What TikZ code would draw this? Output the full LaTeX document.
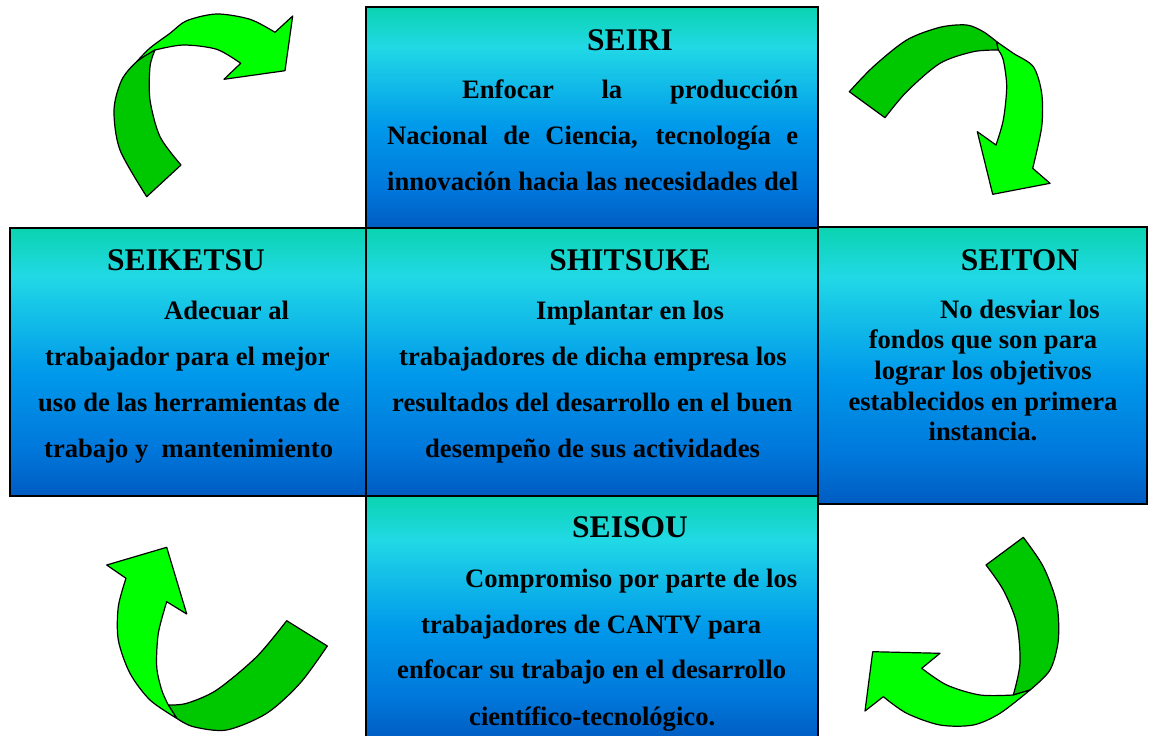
\documentclass[tikz,border=0pt]{standalone}
\usepackage{fontspec}
\setmainfont{Liberation Serif}
\definecolor{lgreen}{RGB}{0,255,0}
\definecolor{dgreen}{RGB}{0,200,0}
\definecolor{sbot}{rgb}{0,0.36,0.76}
\definecolor{sblu}{rgb}{0,0.47,0.86}
\definecolor{smid}{rgb}{0,0.6,0.92}
\definecolor{scya}{rgb}{0.13,0.85,0.9}
\definecolor{stop}{rgb}{0.04,0.83,0.69}
\pgfdeclareverticalshading{boxshade}{100bp}{%
color(0bp)=(sbot);
color(25bp)=(sbot);
color(34bp)=(sblu);
color(48bp)=(smid);
color(66bp)=(scya);
color(75bp)=(stop);
color(100bp)=(stop)}
\tikzset{
  box/.style={draw=black, line width=1.5pt, shading=boxshade},
  ttl/.style={font=\fontsize{31.5}{36}\selectfont\bfseries, anchor=base, inner sep=0pt},
  txt/.style={font=\fontsize{26.6}{30}\selectfont\bfseries, anchor=base west, inner sep=0pt},
  txc/.style={font=\fontsize{26.6}{30}\selectfont\bfseries, anchor=base, inner sep=0pt},
  arl/.style={draw=black, line width=1.2pt, fill=lgreen, line join=round},
  ard/.style={draw=black, line width=1.2pt, fill=dgreen, line join=round}
}
\begin{document}
\begin{tikzpicture}[x=1pt,y=-1pt]
\useasboundingbox (0,0) rectangle (1152,736);
% boxes
\path[box] (366,7) rectangle (818,228);
\path[box] (818,227) rectangle (1147,504);
\path[box] (366,496) rectangle (818,740);
\path[box] (10,228) rectangle (366,496);
\path[box] (366,228) rectangle (818,496);
% SEIRI
\node[ttl] (t1) at (630,50) {SEIRI};
\node[txt] (a1) at (462,98) {\makebox[336pt][s]{Enfocar la producción}};
\node[txt] (a2) at (387,144) {\makebox[411pt][s]{Nacional de Ciencia, tecnología e}};
\node[txt] (a3) at (387,190) {\makebox[411pt][s]{innovación hacia las necesidades del}};
% SEIKETSU
\node[ttl] (t2) at (186,270) {SEIKETSU};
\node[txt] (b1) at (164,319) {Adecuar al};
\node[txt] (b2) at (45,365) {trabajador para el mejor};
\node[txt] (b3) at (38,411) {uso de las herramientas de};
\node[txt] (b4) at (44,457) {trabajo y\ \ mantenimiento};
% SHITSUKE
\node[ttl] (t3) at (630,270) {SHITSUKE};
\node[txt] (c1) at (536,319) {Implantar en los};
\node[txt] (c2) at (399,365) {trabajadores de dicha empresa los};
\node[txt] (c3) at (392,411) {resultados del desarrollo en el buen};
\node[txt] (c4) at (425,457) {desempeño de sus actividades};
% SEITON
\node[ttl] (t4) at (1020,270) {SEITON};
\node[txt] (d1) at (940,318) {No desviar los};
\node[txc] (d2) at (983,348) {fondos que son para};
\node[txc] (d3) at (983,379) {lograr los objetivos};
\node[txc] (d4) at (983,410) {establecidos en primera};
\node[txc] (d5) at (983,440) {instancia.};
% SEISOU
\node[ttl] (t5) at (630,537) {SEISOU};
\node[txt] (e1) at (465,587) {Compromiso por parte de los};
\node[txt] (e2) at (421,633) {trabajadores de CANTV para};
\node[txt] (e3) at (397,678) {enfocar su trabajo en el desarrollo};
\node[txt] (e4) at (469,725) {científico-tecnológico.};
% arrow top-left
\draw[arl] plot[smooth] coordinates {(136.7,61.7) (150,48) (170,33.3) (186.7,20.7) (216.7,14) (250,19.3) (275,32.3)} -- (292.7,16) -- (285,70.7) -- (224,79.3) -- plot[smooth] coordinates {(240.7,63.3) (216.7,49.3) (183.3,45) (155,50)} -- cycle;
\draw[ard] plot[smooth] coordinates {(146.7,196.7) (120,150) (114,110) (121.7,80) (136.7,61.7) (155,50)} -- plot[smooth] coordinates {(155,50) (150,66.7) (150,100) (160,136.7) (181,165)} -- cycle;
% arrow top-right
\draw[ard] plot[smooth] coordinates {(849.3,91.7) (873.3,66.7) (906.7,40) (940,27.3) (966.7,25) (983.3,31.7) (996.7,41.7)} -- plot[smooth] coordinates {(998.3,50) (973.3,51.7) (940,63.3) (906.7,91.7) (885,117.7)} -- cycle;
\draw[arl] plot[smooth] coordinates {(996.7,41.7) (1013.3,53.3) (1033.3,66.7) (1041.7,93.3) (1041.7,126.7) (1032.7,168.3)} -- (1050,183.3) -- (992.7,194.3) -- (977.3,131.7) -- plot[smooth] coordinates {(996,145) (1003.3,120) (1006.7,86.7) (1003.3,60) (998.3,50)} -- cycle;
% arrow bottom-left
\draw[ard] plot[smooth] coordinates {(286.7,620.7) (256.7,656.7) (216.7,690) (186.7,703.3) (168.3,705)} -- plot[smooth] coordinates {(176.7,718.3) (193.3,726.7) (226.7,730) (266.7,713.3) (300,683.3) (327.3,646)} -- cycle;
\draw[arl] plot[smooth] coordinates {(176.7,718.3) (150,700) (130,673.3) (118.3,640) (118.3,606.7) (126,578.3)} -- (106.7,565) -- (166.7,547.3) -- (186.7,614) -- plot[smooth] coordinates {(166.7,601.7) (158.3,633.3) (156.7,666.7) (161.7,690) (168.3,705)} -- cycle;
% arrow bottom-right
\draw[ard] plot[smooth] coordinates {(1023.3,537.3) (1043.3,566.7) (1056.7,603.3) (1058.3,640) (1050,670) (1030,690)} -- plot[smooth] coordinates {(1013.3,695) (1020,663.3) (1016.7,623.3) (1003.3,590) (986,565)} -- cycle;
\draw[arl] plot[smooth] coordinates {(1030,690) (1000,713.3) (973.3,725) (940,725) (906.7,713.3) (883.3,696.7)} -- (865,711) -- (872.7,651.7) -- (940,653.3) -- plot[smooth] coordinates {(921.7,668.3) (946.7,685) (980,695) (1013.3,695)} -- cycle;
\end{tikzpicture}
\end{document}
